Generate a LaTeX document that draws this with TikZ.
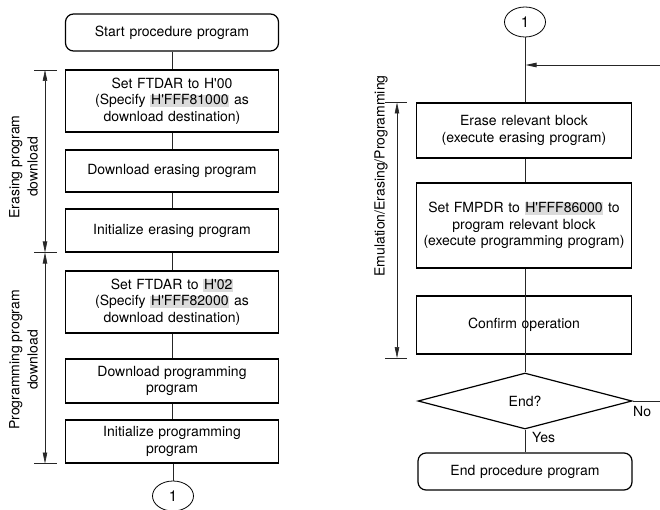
\documentclass[tikz,border=0pt]{standalone}
\usepackage{fontspec}
\newfontfamily\hv{TeX Gyre Heros}
\usetikzlibrary{shapes.geometric,arrows.meta}
\definecolor{hlgray}{gray}{0.86}
\newcommand{\hlt}[1]{{\setlength{\fboxsep}{0pt}\colorbox{hlgray}{\rule[-2.6pt]{0pt}{12.6pt}\kern0.8pt#1\kern0.8pt}}}
\begin{document}
\begin{tikzpicture}[x=1pt,y=-1pt,
  font=\hv\fontsize{14}{16.7}\selectfont,
  box/.style={draw, line width=1.2pt, text width=207pt, inner xsep=3pt, inner ysep=0pt, align=center},
  rbox/.style={box, text width=209pt},
  term/.style={box, rounded corners=8pt},
  conn/.style={draw, ellipse, line width=0.8pt, minimum width=41pt, minimum height=30pt, inner sep=0pt, font=\hv\fontsize{15}{17}\selectfont},
  flow/.style={line width=0.8pt, draw=black!85},
  dim/.style={line width=0.6pt, draw=black!85},
  dimarr/.style={dim, {Triangle[length=11pt,width=4.5pt]}-{Triangle[length=11pt,width=4.5pt]}},
  lbl/.style={inner sep=1pt},
  side/.style={rotate=90, align=center, inner sep=0pt, font=\hv\fontsize{14}{18.3}\selectfont}
]
\useasboundingbox (0,0) rectangle (660,510);

% ---- left column
\node[term, minimum height=37pt] (s) at (172,32.5) {Start procedure program};
\node[box, minimum height=62pt] (b1) at (172,101) {Set FTDAR to H'00\\(Specify \hlt{H'FFF81000} as\\download destination)};
\node[box, minimum height=42pt] (b2) at (172,171) {Download erasing program};
\node[box, minimum height=43pt] (b3) at (172,230.5) {Initialize erasing program};
\node[box, minimum height=62pt] (b4) at (172,302) {Set FTDAR to \hlt{H'02}\\(Specify \hlt{H'FFF82000} as\\download destination)};
\node[box, minimum height=44pt] (b5) at (172,381) {Download programming\\program};
\node[box, minimum height=43pt] (b6) at (172,441.5) {Initialize programming\\program};
\node[conn] (c1) at (173,496) {1};

\draw[flow] (s) -- (b1);
\draw[flow] (b1) -- (b2);
\draw[flow] (b2) -- (b3);
\draw[flow] (b3) -- (b4);
\draw[flow] (b4) -- (b5);
\draw[flow] (b5) -- (b6);
\draw[flow] (b6.south -| c1) -- (c1);

% left dimensions
\coordinate (t1) at (45,70);
\coordinate (t2) at (45,252.5);
\coordinate (t3) at (45,463.5);
\draw[dim] ([xshift=-11pt]t1) -- ([xshift=12pt]t1);
\draw[dim] ([xshift=-11pt]t2) -- ([xshift=12pt]t2);
\draw[dim] ([xshift=-11pt]t3) -- ([xshift=12pt]t3);
\draw[dimarr] (t1) -- (t2);
\draw[dimarr] (t2) -- (t3);
\node[side] (l1) at (23.5,167) {Erasing program\\download};
\node[side] (l2) at (23.5,360) {Programming program\\download};

% ---- right column
\node[conn] (c2) at (525,22) {1};
\node[rbox, minimum height=55pt] (a) at (524,130.5) {Erase relevant block\\(execute erasing program)};
\node[rbox, minimum height=85pt] (b) at (524,225.5) {Set FMPDR to \hlt{H'FFF86000} to\\program relevant block\\(execute programming program)};
\node[rbox, minimum height=58pt] (c) at (524,325) {Confirm operation};
\node[draw, diamond, line width=1.2pt, minimum width=214pt, minimum height=56pt, inner sep=0pt] (d) at (525,401) {End?};
\node[term, text width=208pt, minimum height=37pt] (e) at (525,471.5) {End procedure program};

\coordinate (j) at (525.5,65);
\coordinate (fr) at (661,65);
\coordinate (dr) at (661,401);
\draw[flow] (c2) -- (a.north -| c2);
\draw[flow] (a.south -| c2) -- (b.north -| c2);
\draw[flow] (b.south -| c2) -- (c.south -| c2) -- (c.south -| c2);
\draw[flow] (c.south -| c2) -- (d.north);
\draw[flow] (d.south) -- (e);
\draw[flow] (d.east) -- (dr) -- (fr);
\draw[flow, -{Triangle[length=11pt,width=4.5pt]}] (fr) -- (j);
\node[lbl, anchor=west] (yes) at (531,437.5) {Yes};
\node[lbl, anchor=west] (no) at (632,411.5) {No};

% right dimension
\coordinate (r1) at (397,102.5);
\coordinate (r2) at (397,358);
\draw[dim] ([xshift=-12pt]r1) -- ([xshift=10pt]r1);
\draw[dim] ([xshift=-12pt]r2) -- ([xshift=10pt]r2);
\draw[dimarr] (r1) -- (r2);
\node[side] (l3) at (381,176) {Emulation/Erasing/Programming};
\end{tikzpicture}
\end{document}
